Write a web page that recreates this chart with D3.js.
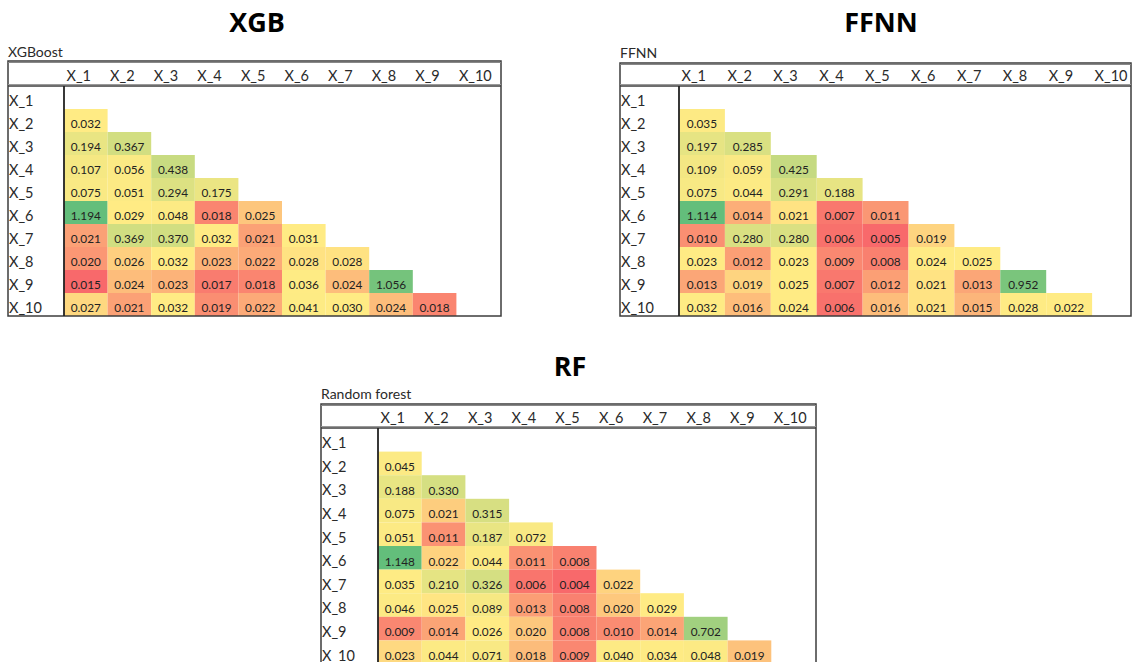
<!DOCTYPE html>
<html>
<head>
<meta charset="utf-8">
<script src="https://cdn.jsdelivr.net/npm/d3@7"></script>
<style>
  html, body { margin: 0; padding: 0; background: #fff; }
  svg { display: block; }
</style>
</head>
<body>
<svg id="chart" width="1133" height="662"></svg>
<script>
// ---------------- DATA ----------------
const variables = ["X_1","X_2","X_3","X_4","X_5","X_6","X_7","X_8","X_9","X_10"];

// lower-triangle values, rows X_2 .. X_10, columns X_1 .. X_(row-1)
const xgbValues = [
  [0.032],
  [0.194, 0.367],
  [0.107, 0.056, 0.438],
  [0.075, 0.051, 0.294, 0.175],
  [1.194, 0.029, 0.048, 0.018, 0.025],
  [0.021, 0.369, 0.370, 0.032, 0.021, 0.031],
  [0.020, 0.026, 0.032, 0.023, 0.022, 0.028, 0.028],
  [0.015, 0.024, 0.023, 0.017, 0.018, 0.036, 0.024, 1.056],
  [0.027, 0.021, 0.032, 0.019, 0.022, 0.041, 0.030, 0.024, 0.018]
];
const ffnnValues = [
  [0.035],
  [0.197, 0.285],
  [0.109, 0.059, 0.425],
  [0.075, 0.044, 0.291, 0.188],
  [1.114, 0.014, 0.021, 0.007, 0.011],
  [0.010, 0.280, 0.280, 0.006, 0.005, 0.019],
  [0.023, 0.012, 0.023, 0.009, 0.008, 0.024, 0.025],
  [0.013, 0.019, 0.025, 0.007, 0.012, 0.021, 0.013, 0.952],
  [0.032, 0.016, 0.024, 0.006, 0.016, 0.021, 0.015, 0.028, 0.022]
];
const rfValues = [
  [0.045],
  [0.188, 0.330],
  [0.075, 0.021, 0.315],
  [0.051, 0.011, 0.187, 0.072],
  [1.148, 0.022, 0.044, 0.011, 0.008],
  [0.035, 0.210, 0.326, 0.006, 0.004, 0.022],
  [0.046, 0.025, 0.089, 0.013, 0.008, 0.020, 0.029],
  [0.009, 0.014, 0.026, 0.020, 0.008, 0.010, 0.014, 0.702],
  [0.023, 0.044, 0.071, 0.018, 0.009, 0.040, 0.034, 0.048, 0.019]
];

const panelTitles = ["XGB", "FFNN", "RF"];
const tableTitles = ["XGBoost", "FFNN", "Random forest"];

// ---------------- LAYOUT ----------------
const panels = [
  { values: xgbValues, title: panelTitles[0], sub: tableTitles[0],
    titleX: 257, titleY: 32,
    x0: 8, x1: 501, top: 61, headBottom: 86, labelRight: 64, colW: 43.6, rowH: 23, subY: 57 },
  { values: ffnnValues, title: panelTitles[1], sub: tableTitles[1],
    titleX: 881, titleY: 32,
    x0: 620, x1: 1131, top: 63, headBottom: 86, labelRight: 679, colW: 45.9, rowH: 23, subY: 58 },
  { values: rfValues, title: panelTitles[2], sub: tableTitles[2],
    titleX: 570, titleY: 376,
    x0: 321, x1: 816, top: 404, headBottom: 428, labelRight: 378, colW: 43.7, rowH: 23.6, subY: 399 }
];

const svg = d3.select("#chart");
const FONT = "Lato, 'Open Sans', sans-serif";

panels.forEach(p => {
  const g = svg.append("g");

  // colour scale: Excel-like 3-colour scale (min red, median yellow, max green)
  const flat = p.values.flat();
  const sorted = flat.slice().sort(d3.ascending);
  const color = d3.scaleLinear()
    .domain([d3.min(flat), d3.quantile(sorted, 0.5), d3.max(flat)])
    .range(["#F8696B", "#FFEB84", "#63BE7B"])
    .interpolate(d3.interpolateRgb);

  const x = d3.scaleBand().domain(variables)
    .range([p.labelRight, p.labelRight + p.colW * variables.length]);
  const y = d3.scaleBand().domain(variables)
    .range([p.headBottom, p.headBottom + p.rowH * variables.length]);
  const bottom = p.headBottom + p.rowH * variables.length;

  const clipId = "clip-" + p.title;
  svg.append("clipPath").attr("id", clipId)
    .append("rect").attr("x", p.x0).attr("y", p.top)
    .attr("width", p.x1 - p.x0).attr("height", bottom - p.top);

  // panel title
  g.append("text")
    .attr("x", p.titleX).attr("y", p.titleY)
    .attr("text-anchor", "middle")
    .attr("font-family", "'Open Sans', sans-serif")
    .attr("font-weight", 700)
    .attr("font-size", 27)
    .attr("fill", "#000")
    .text(p.title);

  // table subtitle
  g.append("text")
    .attr("x", p.x0).attr("y", p.subY)
    .attr("font-family", FONT)
    .attr("font-size", 14)
    .attr("fill", "#2a2a2a")
    .text(p.sub);

  const body = g.append("g").attr("clip-path", `url(#${clipId})`);

  // cells
  const cells = [];
  p.values.forEach((row, i) => {
    row.forEach((v, j) => {
      cells.push({ r: variables[i + 1], c: variables[j], v });
    });
  });

  body.selectAll("rect.cell").data(cells).join("rect")
    .attr("class", "cell")
    .attr("x", d => x(d.c))
    .attr("y", d => y(d.r))
    .attr("width", x.bandwidth())
    .attr("height", y.bandwidth())
    .attr("fill", d => color(d.v));

  body.selectAll("text.val").data(cells).join("text")
    .attr("class", "val")
    .attr("x", d => x(d.c) + x.bandwidth() / 2)
    .attr("y", d => y(d.r) + y.bandwidth() - 4)
    .attr("text-anchor", "middle")
    .attr("font-family", FONT)
    .attr("font-size", 11.8)
    .attr("fill", "#222")
    .text(d => d3.format(".3f")(d.v));

  // column headers
  body.selectAll("text.colh").data(variables).join("text")
    .attr("class", "colh")
    .attr("x", d => x(d) + 2.5)
    .attr("y", p.headBottom - 5)
    .attr("font-family", FONT)
    .attr("font-size", 14.5)
    .attr("fill", "#2a2a2a")
    .text(d => d);

  // row headers
  body.selectAll("text.rowh").data(variables).join("text")
    .attr("class", "rowh")
    .attr("x", p.x0 + 1)
    .attr("y", d => y(d) + y.bandwidth() - 3.5)
    .attr("font-family", FONT)
    .attr("font-size", 14.5)
    .attr("fill", "#2a2a2a")
    .text(d => d);

  // borders
  const lc = "#3c3c3c";
  g.append("rect")
    .attr("x", p.x0).attr("y", p.top)
    .attr("width", p.x1 - p.x0).attr("height", bottom - p.top)
    .attr("fill", "none").attr("stroke", lc).attr("stroke-width", 1.5);
  g.append("line")
    .attr("x1", p.x0).attr("x2", p.x1)
    .attr("y1", p.top + 1.5).attr("y2", p.top + 1.5)
    .attr("stroke", "#888").attr("stroke-width", 1);
  g.append("line")
    .attr("x1", p.x0).attr("x2", p.x1)
    .attr("y1", p.headBottom).attr("y2", p.headBottom)
    .attr("stroke", lc).attr("stroke-width", 1.5);
  g.append("line")
    .attr("x1", p.x0).attr("x2", p.x1)
    .attr("y1", p.headBottom - 1.5).attr("y2", p.headBottom - 1.5)
    .attr("stroke", "#999").attr("stroke-width", 1);
  g.append("line")
    .attr("x1", p.labelRight).attr("x2", p.labelRight)
    .attr("y1", p.headBottom).attr("y2", bottom)
    .attr("stroke", "#222").attr("stroke-width", 1.8);
});
</script>
</body>
</html>
